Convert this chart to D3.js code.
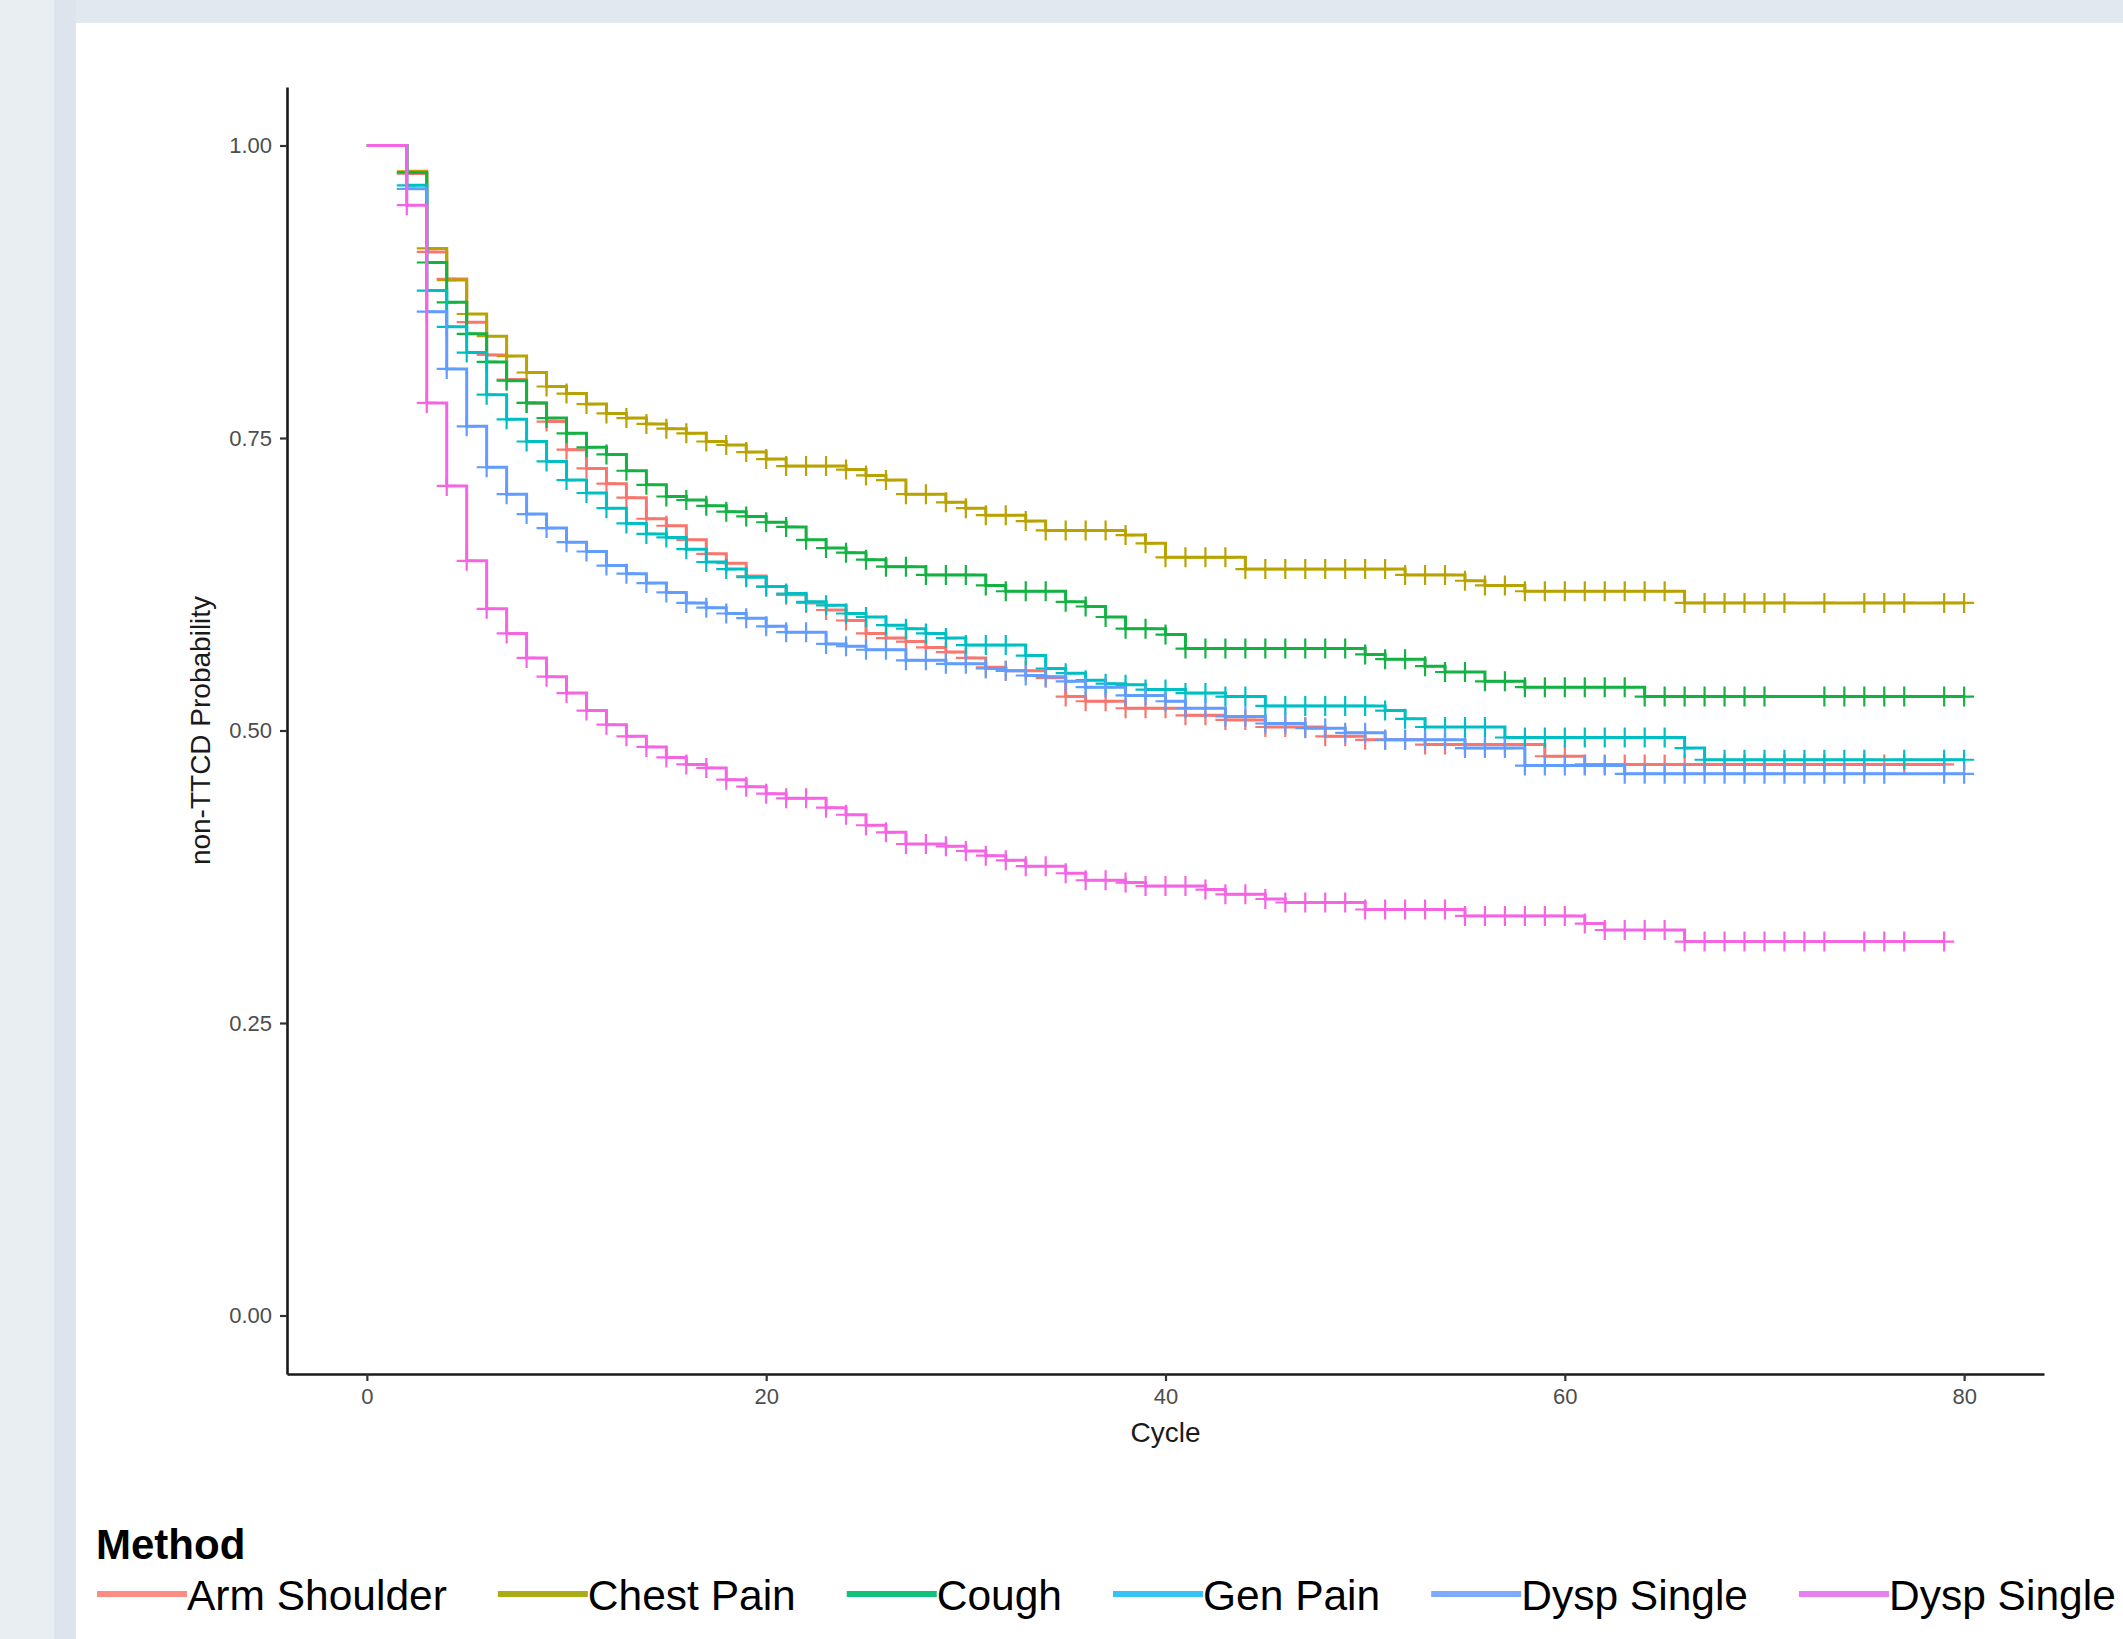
<!DOCTYPE html>
<html>
<head>
<meta charset="utf-8">
<script src="https://cdn.jsdelivr.net/npm/d3@7/dist/d3.min.js"></script>
<style>
  html, body { margin: 0; padding: 0; background: #e1e8ef; overflow: hidden; }
  svg { display: block; font-family: "Liberation Sans", Arial, sans-serif; }
</style>
</head>
<body>
<svg id="chart" width="2123" height="1639"></svg>
<script>
'use strict';
/* global d3: false */

// legend order (ggplot factor order)
var methodNames = ['Arm Shoulder', 'Chest Pain', 'Cough', 'Gen Pain', 'Dysp Single', 'Dysp Single'];
var lineColors = ['#F8766D', '#B8A300', '#13B243', '#00BFC4', '#619CFF', '#F564E3'];
var keyColors = ['#fb8d85', '#abab14', '#10c07d', '#35c3f4', '#7eaaff', '#e77ef0'];

var xTicks = [0, 20, 40, 60, 80];
var yTicks = [0, 0.25, 0.5, 0.75, 1];

// KM steps: [cycle, survival], survival holds until the next step
var armSteps = [[0,1],[2,0.976],[3,0.909],[4,0.886],[5,0.849],[6,0.821],[7,0.800],[8,0.780],[9,0.764],[10,0.740],[11,0.724],[12,0.711],[13,0.699],[14,0.681],[15,0.675],[16,0.663],[17,0.651],[18,0.643],[19,0.632],[20,0.623],[21,0.616],[22,0.609],[23,0.603],[24,0.594],[25,0.583],[26,0.579],[27,0.576],[28,0.571],[29,0.567],[30,0.562],[31,0.554],[32,0.551],[34,0.545],[35,0.529],[36,0.525],[38,0.519],[41,0.513],[43,0.509],[45,0.503],[48,0.495],[50,0.492],[53,0.488],[59,0.478],[61,0.471]];
var chestSteps = [[0,1],[2,0.978],[3,0.912],[4,0.885],[5,0.856],[6,0.837],[7,0.820],[8,0.806],[9,0.794],[10,0.788],[11,0.779],[12,0.771],[13,0.767],[14,0.762],[15,0.758],[16,0.754],[17,0.747],[18,0.744],[19,0.738],[20,0.732],[21,0.726],[24,0.723],[25,0.718],[26,0.714],[27,0.702],[29,0.695],[30,0.690],[31,0.684],[33,0.679],[34,0.671],[38,0.667],[39,0.660],[40,0.648],[44,0.638],[52,0.633],[55,0.628],[56,0.624],[58,0.619],[66,0.609]];
var coughSteps = [[0,1],[2,0.977],[3,0.900],[4,0.866],[5,0.839],[6,0.815],[7,0.799],[8,0.780],[9,0.767],[10,0.754],[11,0.742],[12,0.736],[13,0.722],[14,0.710],[15,0.700],[16,0.697],[17,0.692],[18,0.687],[19,0.683],[20,0.678],[21,0.674],[22,0.663],[23,0.656],[24,0.652],[25,0.646],[26,0.640],[28,0.633],[31,0.624],[32,0.619],[35,0.610],[36,0.606],[37,0.597],[38,0.587],[40,0.582],[41,0.570],[50,0.565],[51,0.561],[53,0.555],[54,0.550],[56,0.542],[58,0.537],[64,0.529]];
var genSteps = [[0,1],[2,0.966],[3,0.876],[4,0.845],[5,0.823],[6,0.787],[7,0.766],[8,0.747],[9,0.730],[10,0.714],[11,0.703],[12,0.690],[13,0.677],[14,0.668],[15,0.665],[16,0.655],[17,0.644],[18,0.638],[19,0.631],[20,0.623],[21,0.617],[22,0.610],[23,0.607],[24,0.600],[25,0.597],[26,0.590],[27,0.587],[28,0.583],[29,0.579],[30,0.573],[33,0.564],[34,0.553],[35,0.549],[36,0.543],[37,0.540],[38,0.539],[39,0.535],[41,0.532],[43,0.529],[45,0.521],[51,0.517],[52,0.510],[53,0.503],[57,0.494],[66,0.485],[67,0.475]];
var dyspSteps = [[0,1],[2,0.963],[3,0.858],[4,0.809],[5,0.760],[6,0.725],[7,0.702],[8,0.685],[9,0.673],[10,0.661],[11,0.653],[12,0.641],[13,0.634],[14,0.626],[15,0.618],[16,0.609],[17,0.605],[18,0.600],[19,0.596],[20,0.589],[21,0.584],[23,0.574],[24,0.572],[25,0.569],[27,0.560],[29,0.557],[31,0.553],[32,0.551],[33,0.547],[34,0.546],[35,0.542],[36,0.537],[38,0.530],[40,0.525],[41,0.519],[43,0.512],[45,0.506],[47,0.502],[49,0.498],[51,0.492],[55,0.485],[58,0.470],[63,0.463]];
var dysp2Steps = [[0,1],[2,0.949],[3,0.780],[4,0.709],[5,0.645],[6,0.604],[7,0.583],[8,0.562],[9,0.546],[10,0.532],[11,0.517],[12,0.505],[13,0.495],[14,0.486],[15,0.477],[16,0.471],[17,0.468],[18,0.458],[19,0.452],[20,0.446],[21,0.442],[23,0.434],[24,0.428],[25,0.419],[26,0.413],[27,0.403],[29,0.401],[30,0.397],[31,0.393],[32,0.389],[33,0.384],[35,0.378],[36,0.372],[38,0.370],[39,0.367],[42,0.364],[43,0.360],[45,0.356],[46,0.353],[50,0.347],[55,0.3415],[61,0.335],[62,0.3295],[66,0.3196]];

// last follow-up cycle of each curve
var lastCycles = [79, 80, 80, 80, 80, 79];

// censoring marks (cycles)
var armCensor = [2,3,4,5,6,7,8,9,10,11,12,13,14,15,16,17,18,19,20,21,22,23,24,25,26,27,28,29,30,31,32,33,34,35,36,37,38,39,40,41,42,43,44,45,46,47,48,49,50,51,52,53,54,55,56,57,58,59,60,61,62,63,64,65,66,67,68,69,70,71,72,73,75,76,77,79];
var chestCensor = [2,3,4,5,6,7,8,9,10,11,12,13,14,15,16,17,18,19,20,21,22,23,24,25,26,27,28,29,30,31,32,33,34,35,36,37,38,39,40,41,42,43,44,45,46,47,48,49,50,51,52,53,54,55,56,57,58,59,60,61,62,63,64,65,66,67,68,69,70,71,73,75,76,77,79,80];
var coughCensor = [2,3,4,5,6,7,8,9,10,11,12,13,14,15,16,17,18,19,20,21,22,23,24,25,26,27,28,29,30,31,32,33,34,35,36,37,38,39,40,41,42,43,44,45,46,47,48,49,50,51,52,53,54,55,56,57,58,59,60,61,62,63,64,65,66,67,68,69,70,73,74,75,76,77,79,80];
var genCensor = [2,3,4,5,6,7,8,9,10,11,12,13,14,15,16,17,18,19,20,21,22,23,24,25,26,27,28,29,30,31,32,33,34,35,36,37,38,39,40,41,42,43,44,45,46,47,48,49,50,51,52,53,54,55,56,57,58,59,60,61,62,63,64,65,66,67,68,69,70,71,72,73,74,75,77,79,80];
var dyspCensor = [2,3,4,5,6,7,8,9,10,11,12,13,14,15,16,17,18,19,20,21,22,23,24,25,26,27,28,29,30,31,32,33,34,35,36,37,38,39,40,41,42,43,44,45,46,47,48,49,50,51,52,53,54,55,56,57,58,59,60,61,62,63,64,65,66,67,68,69,70,71,72,73,74,75,76,79,80];
var dysp2Censor = [2,3,4,5,6,7,8,9,10,11,12,13,14,15,16,17,18,19,20,21,22,23,24,25,26,27,28,29,30,31,32,33,34,35,36,37,38,39,40,41,42,43,44,45,46,47,48,49,50,51,52,53,54,55,56,57,58,59,60,61,62,63,64,65,66,67,68,69,70,71,72,73,75,76,77,79];

var allSteps = [armSteps, chestSteps, coughSteps, genSteps, dyspSteps, dysp2Steps];
var allCensor = [armCensor, chestCensor, coughCensor, genCensor, dyspCensor, dysp2Censor];

var W = 2123, H = 1639;
var svg = d3.select('#chart');

/* page background */
svg.append('rect').attr('x', 0).attr('y', 0).attr('width', W).attr('height', H).style('fill', '#e1e8ef');
svg.append('rect').attr('x', 0).attr('y', 0).attr('width', 54).attr('height', H).style('fill', '#e9eef3');
svg.append('rect').attr('x', 54).attr('y', 0).attr('width', 22).attr('height', H).style('fill', '#dde4ec');
svg.append('rect').attr('x', 76).attr('y', 23).attr('width', W - 76).attr('height', H - 23).style('fill', '#ffffff');

/* panel */
var panL = 287, panR = 2044, panT = 87, panB = 1374;

var x = d3.scaleLinear().domain([-4, 84]).range([panL, panR]);
var y = d3.scaleLinear().domain([-0.05, 1.05]).range([panB, panT]);

// value of a step curve at cycle t
var survAt = function(steps, t) {
  var v = steps[0][1];
  for (var i = 0; i < steps.length; i++) {
    if (steps[i][0] <= t) { v = steps[i][1]; }
  }
  return v;
};

var stepLine = d3.line()
  .x(function(d) { return x(d[0]); })
  .y(function(d) { return y(d[1]); })
  .curve(d3.curveStepAfter);

var curves = svg.append('g');
allSteps.forEach(function(steps, i) {
  var pts = steps.slice();
  pts.push([lastCycles[i], steps[steps.length - 1][1]]);

  curves.append('path')
    .attr('d', stepLine(pts))
    .style('fill', 'none')
    .style('stroke', lineColors[i])
    .style('stroke-width', 3);

  curves.append('g').selectAll('path')
    .data(allCensor[i])
    .enter().append('path')
    .attr('transform', function(t) { return 'translate(' + x(t) + ',' + y(survAt(steps, t)) + ')'; })
    .attr('d', 'M-10,0H10M0,-10V10')
    .style('fill', 'none')
    .style('stroke', lineColors[i])
    .style('stroke-width', 2.2);
});

/* axes */
var xAxis = svg.append('g')
  .attr('transform', 'translate(0,' + panB + ')')
  .call(d3.axisBottom(x).tickValues(xTicks).tickFormat(d3.format('d')).tickSizeInner(7).tickSizeOuter(0).tickPadding(7));

var yAxis = svg.append('g')
  .attr('transform', 'translate(' + panL + ',0)')
  .call(d3.axisLeft(y).tickValues(yTicks).tickFormat(d3.format('.2f')).tickSizeInner(7).tickSizeOuter(0).tickPadding(8));

[xAxis, yAxis].forEach(function(ax) {
  ax.select('.domain').style('stroke', '#1a1a1a').style('stroke-width', 2.6);
  ax.selectAll('.tick line').style('stroke', '#333333').style('stroke-width', 2.2);
  ax.selectAll('.tick text')
    .style('fill', '#4d4d4d')
    .style('font-size', '22px')
    .style('font-family', '"Liberation Sans", Arial, sans-serif');
});

svg.append('text')
  .attr('x', (panL + panR) / 2)
  .attr('y', 1442)
  .attr('text-anchor', 'middle')
  .style('font-size', '28px')
  .style('fill', '#1a1a1a')
  .text('Cycle');

svg.append('text')
  .attr('transform', 'translate(210,' + ((panT + panB) / 2) + ') rotate(-90)')
  .attr('text-anchor', 'middle')
  .style('font-size', '28px')
  .style('fill', '#1a1a1a')
  .text('non-TTCD Probability');

/* legend */
svg.append('text')
  .attr('x', 96)
  .attr('y', 1559)
  .style('font-size', '42px')
  .style('font-weight', 'bold')
  .style('fill', '#000')
  .text('Method');

var keyW = 90, gapW = 51, legY = 1594;
var lx = 97;
methodNames.forEach(function(name, i) {
  svg.append('line')
    .attr('x1', lx).attr('x2', lx + keyW)
    .attr('y1', legY).attr('y2', legY)
    .style('stroke', keyColors[i])
    .style('stroke-width', 6);
  var t = svg.append('text')
    .attr('x', lx + keyW)
    .attr('y', 1610)
    .style('font-size', '42.5px')
    .style('fill', '#000')
    .text(name);
  lx += keyW + t.node().getComputedTextLength() + gapW;
});
</script>
</body>
</html>
